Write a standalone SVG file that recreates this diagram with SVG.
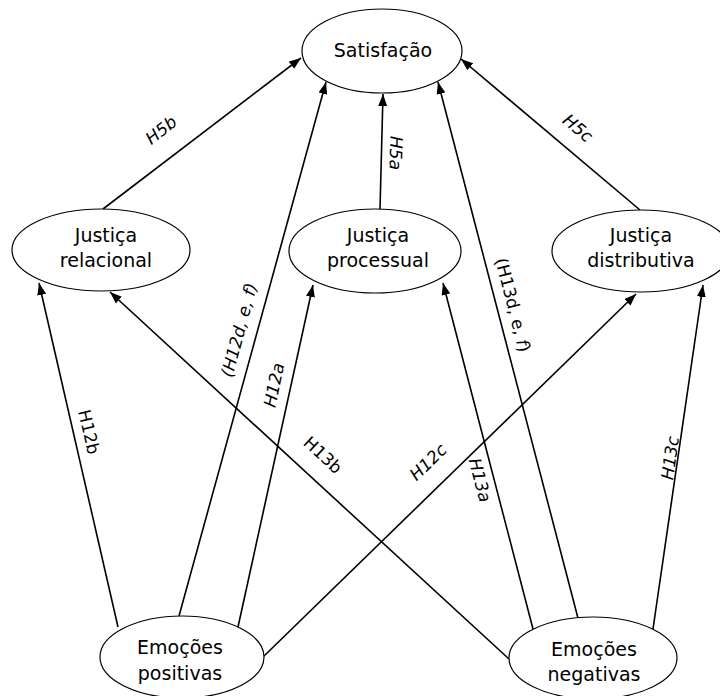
<svg xmlns="http://www.w3.org/2000/svg" width="720" height="696" viewBox="0 0 720 696">
  <style>
    .node ellipse { fill: #ffffff; stroke: #000000; stroke-width: 1.2; }
    .node text { font-family: "DejaVu Sans", Verdana, sans-serif; font-size: 19px; fill: #000000; text-anchor: middle; }
    .edges line { stroke: #000000; stroke-width: 1.6; marker-end: url(#arrow); }
    .lbl { font-family: "DejaVu Sans", Verdana, sans-serif; font-size: 17px; fill: #000000; text-anchor: middle; }
    .it { font-style: italic; }
  </style>
  <defs>
    <marker id="arrow" markerUnits="userSpaceOnUse" markerWidth="13" markerHeight="9" refX="12" refY="4.5" orient="auto">
      <path d="M0,0 L12,4.5 L0,9 Z" fill="#000000"/>
    </marker>
  </defs>
  <rect width="720" height="696" fill="#ffffff"/>

  <!-- connectors -->
  <g id="edges" class="edges">
    <line x1="103" y1="209" x2="301" y2="58"/>
    <line x1="380" y1="209" x2="383" y2="94"/>
    <line x1="640" y1="210" x2="461" y2="59"/>
    <line x1="118" y1="627" x2="39" y2="283"/>
    <line x1="179" y1="616" x2="326" y2="82"/>
    <line x1="238" y1="627" x2="313" y2="285"/>
    <line x1="263" y1="657" x2="636" y2="294"/>
    <line x1="509" y1="659" x2="110" y2="292"/>
    <line x1="533" y1="629" x2="443" y2="283"/>
    <line x1="579" y1="622" x2="438" y2="82"/>
    <line x1="653" y1="629" x2="703" y2="285"/>
  </g>

  <!-- hypothesis labels -->
  <g id="labels">
    <text class="lbl it" transform="translate(161,130) rotate(-38)" y="6">H5b</text>
    <text class="lbl it" transform="translate(396,153) rotate(91.5)" y="6">H5a</text>
    <text class="lbl it" transform="translate(578,128) rotate(40)" y="6">H5c</text>
    <text class="lbl" transform="translate(89,432) rotate(77)" y="6">H12b</text>
    <text class="lbl it" transform="translate(239,330) rotate(-75)" y="6">(H12d, e, f)</text>
    <text class="lbl it" transform="translate(274,385) rotate(-78)" y="6">H12a</text>
    <text class="lbl" transform="translate(323,455) rotate(43)" y="6">H13b</text>
    <text class="lbl it" transform="translate(428,462) rotate(-44)" y="6">H12c</text>
    <text class="lbl it" transform="translate(480,480) rotate(75)" y="6">H13a</text>
    <text class="lbl" transform="translate(513,305) rotate(75.5)" y="6">(H13d, e, <tspan class="it">f</tspan>)</text>
    <text class="lbl it" transform="translate(670,458) rotate(-82)" y="6">H13c</text>
  </g>

  <!-- nodes -->
  <g id="satisfacao" class="node">
    <ellipse cx="382" cy="51" rx="80" ry="42"/>
    <text x="383" y="57">Satisfação</text>
  </g>
  <g id="justica-relacional" class="node">
    <ellipse cx="101" cy="250" rx="89" ry="41"/>
    <text x="106" y="242">Justiça</text>
    <text x="106" y="267">relacional</text>
  </g>
  <g id="justica-processual" class="node">
    <ellipse cx="375" cy="251" rx="86" ry="42"/>
    <text x="378" y="242">Justiça</text>
    <text x="378" y="267">processual</text>
  </g>
  <g id="justica-distributiva" class="node">
    <ellipse cx="641" cy="251" rx="89" ry="41"/>
    <text x="641" y="242">Justiça</text>
    <text x="641" y="267">distributiva</text>
  </g>
  <g id="emocoes-positivas" class="node">
    <ellipse cx="182" cy="657" rx="82" ry="41"/>
    <text x="180" y="654">Emoções</text>
    <text x="180" y="680">positivas</text>
  </g>
  <g id="emocoes-negativas" class="node">
    <ellipse cx="593" cy="658" rx="84" ry="41"/>
    <text x="594" y="656">Emoções</text>
    <text x="594" y="681">negativas</text>
  </g>
</svg>
